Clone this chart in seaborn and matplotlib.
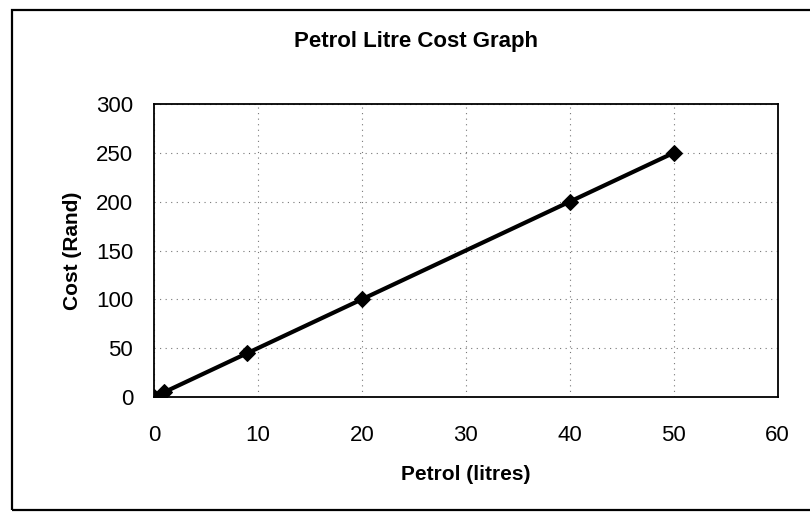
import pandas as pd
import numpy as np
import matplotlib.pyplot as plt
import seaborn as sns
from matplotlib.patches import Rectangle

# values
litres = [0, 1, 9, 20, 40, 50]
cost = [0, 5, 45, 100, 200, 250]
x_ticks = [0, 10, 20, 30, 40, 50, 60]
y_ticks = [0, 50, 100, 150, 200, 250, 300]

sns.set_style('white')
plt.rcParams['font.family'] = ['Liberation Sans', 'DejaVu Sans']
plt.rcParams.update({'text.color': 'black', 'axes.labelcolor': 'black',
                     'xtick.color': 'black', 'ytick.color': 'black'})

df = pd.DataFrame({'Petrol': litres, 'Cost': cost})

fig = plt.figure(figsize=(8.1, 5.16), dpi=100)
ax = fig.add_axes([0.190, 0.2306, 0.770, 0.5678])

sns.lineplot(data=df, x='Petrol', y='Cost', ax=ax, color='black',
             linewidth=3, marker='D', markersize=8.5, markeredgecolor='black')

ax.set_xlim(0, 60)
ax.set_ylim(0, 300)
ax.set_xticks(x_ticks)
ax.set_yticks(y_ticks)
ax.tick_params(axis='x', labelsize=16, length=0, pad=20)
ax.tick_params(axis='y', labelsize=16, length=0, pad=15)
ax.grid(True, linestyle=(0, (1, 4)), color='#777777', linewidth=0.8)
for s in ax.spines.values():
    s.set_color('black')
    s.set_linewidth(1.3)

ax.set_xlabel('Petrol (litres)', fontsize=15, fontweight='bold', labelpad=14)
ax.set_ylabel('Cost (Rand)', fontsize=15, fontweight='bold', labelpad=10)
fig.suptitle('Petrol Litre Cost Graph', fontsize=16, fontweight='bold', x=0.514, y=0.94)

# outer chart frame
fig.patches.append(Rectangle((0.015, 0.012), 1.0, 0.968, transform=fig.transFigure,
                             fill=False, edgecolor='black', linewidth=1.6))

fig.savefig('out.png', dpi=100)
